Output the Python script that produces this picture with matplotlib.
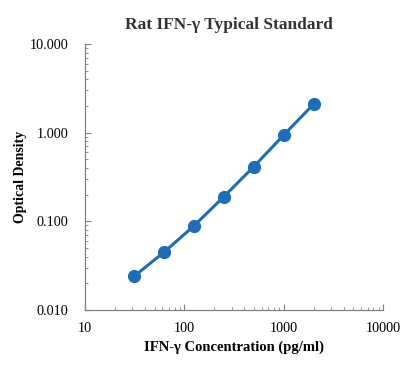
import matplotlib.pyplot as plt
import matplotlib.ticker as ticker

plt.rcParams['font.family'] = ['Liberation Serif', 'DejaVu Serif']

conc = [31.25, 62.5, 125, 250, 500, 1000, 2000]
od = [0.024, 0.045, 0.089, 0.19, 0.414, 0.94, 2.1]
xticks = [10, 100, 1000, 10000]
yticks = [0.01, 0.1, 1, 10]

fig = plt.figure(figsize=(4.11, 3.86), dpi=100)
ax = fig.add_axes([0.207, 0.197, 0.725, 0.689])

ax.plot(conc, od, color='#1f6db4', lw=2.2, marker='o', ms=8.5)

ax.set_xscale('log')
ax.set_yscale('log')
ax.set_xlim(10, 10000)
ax.set_ylim(0.01, 10)
ax.set_xticks(xticks)
ax.set_yticks(yticks)
ax.xaxis.set_major_formatter(ticker.FuncFormatter(lambda v, p: '%d' % v))
ax.yaxis.set_major_formatter(ticker.FuncFormatter(lambda v, p: '%.3f' % v))

for s in ['top', 'right']:
    ax.spines[s].set_visible(False)
for s in ['left', 'bottom']:
    ax.spines[s].set_color('#808080')
    ax.spines[s].set_linewidth(0.9)

ax.tick_params(axis='both', which='major', direction='in', length=4, color='#808080', labelsize=10.3)
ax.tick_params(axis='both', which='minor', direction='in', length=2.5, color='#808080')
ax.tick_params(axis='y', which='major', pad=12)
ax.tick_params(axis='x', which='major', pad=9)

# title sits a bit left of the axes centre in the original
fig.text(229 / 411, 1 - 25 / 386, 'Rat IFN-γ Typical Standard', fontsize=12.5,
         fontweight='bold', color='#333333', ha='center', va='center')
ax.set_xlabel('IFN-γ Concentration (pg/ml)', fontsize=10.5, fontweight='bold', labelpad=4)
ax.set_ylabel('Optical Density', fontsize=10, fontweight='bold', labelpad=2)

plt.savefig('out.png', dpi=100)
